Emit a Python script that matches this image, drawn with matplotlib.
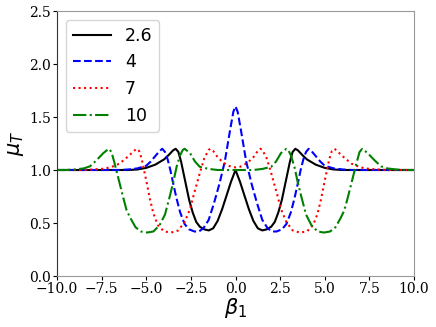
import numpy as np
import matplotlib
matplotlib.use('Agg')
import matplotlib.pyplot as plt

# readings, beta_1 from -10 to 10
beta_k = [-10, -6.0, -5.5, -5.0, -4.5, -4.0, -3.75, -3.5, -3.35, -3.2, -3.05, -2.9,
          -2.75, -2.6, -2.4, -2.2, -2.0, -1.75, -1.5, -1.25, -1.0, -0.75, -0.5, -0.25,
          0, 0.25, 0.5, 0.75, 1.0, 1.25, 1.5, 1.75, 2.0, 2.2, 2.4, 2.6, 2.75, 2.9,
          3.05, 3.2, 3.35, 3.5, 3.75, 4.0, 4.5, 5.0, 5.5, 6.0, 10]
mu_k = [1.0, 1.0, 1.005, 1.02, 1.05, 1.1, 1.14, 1.185, 1.2, 1.17, 1.08, 0.96,
        0.84, 0.72, 0.6, 0.51, 0.465, 0.44, 0.43, 0.45, 0.52, 0.63, 0.76, 0.89,
        1.0, 0.89, 0.76, 0.63, 0.52, 0.45, 0.43, 0.44, 0.465, 0.51, 0.6, 0.72, 0.84, 0.96,
        1.08, 1.17, 1.2, 1.185, 1.14, 1.1, 1.05, 1.02, 1.005, 1.0, 1.0]

beta_b = [-10, -6.5, -6.0, -5.5, -5.0, -4.75, -4.5, -4.25, -4.1, -3.95, -3.8, -3.65,
          -3.5, -3.3, -3.1, -2.85, -2.6, -2.3, -2.05, -1.8, -1.5, -1.2, -0.9, -0.6,
          -0.3, -0.12, 0, 0.12, 0.3, 0.6, 0.9, 1.2, 1.5, 1.8, 2.05, 2.3, 2.6, 2.85,
          3.1, 3.3, 3.5, 3.65, 3.8, 3.95, 4.1, 4.25, 4.5, 4.75, 5.0, 5.5, 6.0, 6.5, 10]
mu_b = [1.0, 1.0, 1.005, 1.015, 1.04, 1.08, 1.13, 1.18, 1.2, 1.17, 1.1, 1.0,
        0.88, 0.73, 0.6, 0.49, 0.44, 0.42, 0.42, 0.45, 0.53, 0.69, 0.87, 1.08,
        1.38, 1.55, 1.6, 1.55, 1.38, 1.08, 0.87, 0.69, 0.53, 0.45, 0.42, 0.42, 0.44, 0.49,
        0.6, 0.73, 0.88, 1.0, 1.1, 1.17, 1.2, 1.18, 1.13, 1.08, 1.04, 1.015, 1.005, 1.0, 1.0]

beta_r = [-10, -8.5, -8.0, -7.5, -7.0, -6.5, -6.0, -5.75, -5.55, -5.4, -5.25, -5.1,
          -4.95, -4.8, -4.6, -4.35, -4.0, -3.6, -3.2, -2.85, -2.55, -2.3, -2.0, -1.75,
          -1.5, -1.4, -1.25, -1.0, -0.75, -0.5, -0.25, 0,
          0.25, 0.5, 0.75, 1.0, 1.25, 1.4, 1.5, 1.75, 2.0, 2.3, 2.55, 2.85, 3.2, 3.6,
          4.0, 4.35, 4.6, 4.8, 4.95, 5.1, 5.25, 5.4, 5.55, 5.75, 6.0, 6.5, 7.0, 7.5,
          8.0, 8.5, 10]
mu_r = [1.0, 1.0, 1.005, 1.01, 1.025, 1.06, 1.13, 1.17, 1.2, 1.18, 1.1, 0.98,
        0.86, 0.73, 0.59, 0.48, 0.42, 0.41, 0.43, 0.51, 0.63, 0.79, 0.97, 1.11,
        1.19, 1.2, 1.18, 1.12, 1.08, 1.05, 1.03, 1.025,
        1.03, 1.05, 1.08, 1.12, 1.18, 1.2, 1.19, 1.11, 0.97, 0.79, 0.63, 0.51, 0.43, 0.41,
        0.42, 0.48, 0.59, 0.73, 0.86, 0.98, 1.1, 1.18, 1.2, 1.17, 1.13, 1.06, 1.025, 1.01,
        1.005, 1.0, 1.0]

beta_g = [-10, -9.5, -9.0, -8.5, -8.15, -7.8, -7.4, -7.1, -6.95, -6.8, -6.65, -6.47,
          -6.29, -6.1, -5.9, -5.6, -5.3, -4.95, -4.6, -4.25, -3.95, -3.67, -3.48, -3.3,
          -3.1, -2.95, -2.85, -2.55, -2.27, -2.0, -1.5, -1.0, 0,
          1.0, 1.5, 2.0, 2.27, 2.55, 2.85, 2.95, 3.1, 3.3, 3.48, 3.67, 3.95, 4.25, 4.6,
          4.95, 5.3, 5.6, 5.9, 6.1, 6.29, 6.47, 6.65, 6.8, 6.95, 7.1, 7.4, 7.8, 8.15,
          8.5, 9.0, 9.5, 10]
mu_g = [1.0, 1.0, 1.005, 1.015, 1.035, 1.09, 1.16, 1.2, 1.17, 1.08, 0.98, 0.86,
        0.74, 0.62, 0.55, 0.46, 0.42, 0.41, 0.42, 0.48, 0.58, 0.76, 0.89, 1.03,
        1.14, 1.19, 1.2, 1.16, 1.08, 1.03, 1.01, 1.0, 1.0,
        1.0, 1.01, 1.03, 1.08, 1.16, 1.2, 1.19, 1.14, 1.03, 0.89, 0.76, 0.58, 0.48, 0.42,
        0.41, 0.42, 0.46, 0.55, 0.62, 0.74, 0.86, 0.98, 1.08, 1.17, 1.2, 1.16, 1.09, 1.035,
        1.015, 1.005, 1.0, 1.0]

labels = ['2.6', '4', '7', '10']

fig = plt.figure(figsize=(4.36, 3.27), dpi=100)
ax = fig.add_axes([57 / 436, 1 - 276 / 327, 357 / 436, 265 / 327])

ax.plot(beta_k, mu_k, color='k', lw=1.5, ls='-', label=labels[0])
ax.plot(beta_b, mu_b, color='b', lw=1.5, ls='--', label=labels[1])
ax.plot(beta_r, mu_r, color='r', lw=1.5, ls=':', label=labels[2])
ax.plot(beta_g, mu_g, color='g', lw=1.5, ls='-.', label=labels[3])

ax.set_xlim(-10, 10)
ax.set_ylim(0, 2.5)
ax.set_xticks([-10, -7.5, -5, -2.5, 0, 2.5, 5, 7.5, 10])
ax.set_yticks([0, 0.5, 1.0, 1.5, 2.0, 2.5])
for lab in ax.get_xticklabels() + ax.get_yticklabels():
    lab.set_fontfamily('DejaVu Serif')
    lab.set_fontsize(10)
ax.tick_params(length=3, pad=1.5)

ax.set_xlabel(r'$\beta_1$', fontsize=15, labelpad=0)
ax.set_ylabel(r'$\mu_T$', fontsize=15, labelpad=2)

for side in ['top', 'right', 'bottom']:
    ax.spines[side].set_color('#999999')
ax.spines['left'].set_color('#333333')

ax.legend(loc='upper left', fontsize=12.5, handlelength=2.2, borderaxespad=0.5)

fig.savefig('out.png', dpi=100)
